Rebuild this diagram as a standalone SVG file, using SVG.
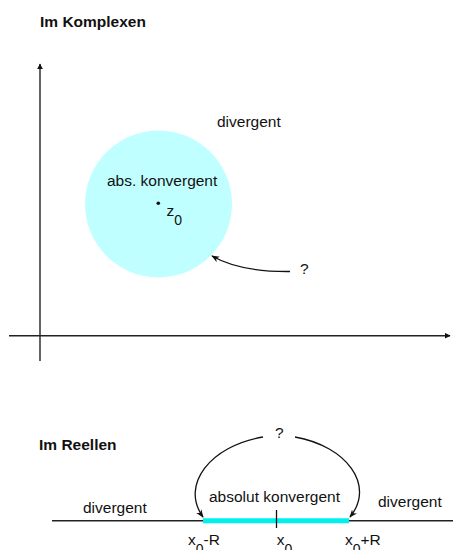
<svg xmlns="http://www.w3.org/2000/svg" width="453" height="550" viewBox="0 0 453 550">
<style>
text{font-family:"Liberation Sans",Arial,sans-serif;font-size:15.5px;fill:#111}
.b{font-weight:bold}
.ax{stroke:#222;stroke-width:1.4;fill:none}
.cv{stroke:#111;stroke-width:1.3;fill:none}
</style>
<defs>
<marker id="tri" viewBox="0 0 10 10" refX="9" refY="5" markerWidth="6" markerHeight="6" markerUnits="userSpaceOnUse" orient="auto">
<path d="M0,0 L10,5 L0,10 z" fill="#111"/>
</marker>
<marker id="barb" viewBox="0 0 10 10" refX="9" refY="5" markerWidth="8" markerHeight="8" markerUnits="userSpaceOnUse" orient="auto">
<path d="M0,1 L10,5 L0,9 L3,5 z" fill="#111"/>
</marker>
</defs>
<text class="b" x="40" y="27">Im Komplexen</text>
<g id="circle">
<circle cx="158.5" cy="204" r="73.5" fill="#C0FFFF"/>
<text x="107" y="186">abs. konvergent</text>
<circle cx="158.3" cy="203.3" r="1.8" fill="#111"/>
<text x="166.5" y="216">z<tspan dy="9" font-size="14">0</tspan></text>
</g>
<g id="divergent-c"><text x="217" y="127">divergent</text></g>
<g id="q1"><text x="300" y="274">?</text></g>
<g id="axes">
<line class="ax" x1="40" y1="361" x2="40" y2="64" marker-end="url(#tri)"/>
<line class="ax" x1="9" y1="335.7" x2="450" y2="335.7" marker-end="url(#tri)"/>
</g>
<text class="b" x="39" y="450">Im Reellen</text>
<g id="realline">
<line class="ax" x1="52" y1="520.7" x2="453" y2="520.7" stroke-width="1.2"/>
<line x1="203" y1="520.7" x2="349" y2="520.7" stroke="#00F0F0" stroke-width="5"/>
<line x1="276.5" y1="510" x2="276.5" y2="528" stroke="#111" stroke-width="1.3"/>
</g>
<g id="labels-r">
<text x="83" y="512.5">divergent</text>
<text x="209" y="501.5">absolut konvergent</text>
<text x="378" y="507">divergent</text>
<text x="275" y="438">?</text>
<text x="188" y="545">x<tspan dy="9" font-size="14">0</tspan><tspan dy="-9">-R</tspan></text>
<text x="276.7" y="545">x<tspan dy="9" font-size="14">0</tspan></text>
<text x="345" y="545">x<tspan dy="9" font-size="14">0</tspan><tspan dy="-9">+R</tspan></text>
</g>
<g id="connectors">
<path class="cv" d="M290,271.5 Q240,272 212,256" marker-end="url(#barb)"/>
<path class="cv" d="M263,437 C210,446 180,485 203,517" marker-end="url(#barb)"/>
<path class="cv" d="M295,437 C346,446 376,485 350,517" marker-end="url(#barb)"/>
</g>
</svg>
